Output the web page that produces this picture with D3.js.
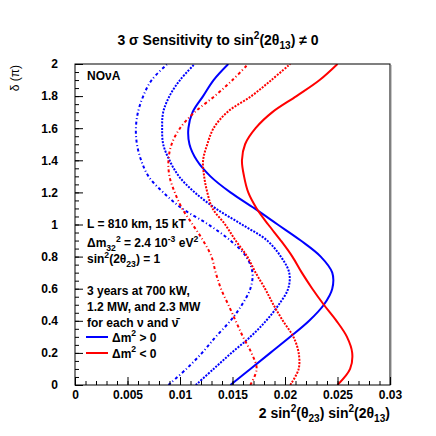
<!DOCTYPE html>
<html>
<head>
<meta charset="utf-8">
<script src="https://cdnjs.cloudflare.com/ajax/libs/d3/7.8.5/d3.min.js"></script>
<style>
body{margin:0;background:#fff}
svg{display:block}
</style>
</head>
<body>
<div id="chart"></div>
<script>

// delta/pi values where the curves were read
var deltaPi = [0,0.1,0.2,0.3,0.4,0.5,0.6,0.7,0.8,0.9,1.0,1.1,1.2,1.3,1.4,1.5,1.6,1.7,1.8,1.9,2.0];

// 2 sin^2(theta23) sin^2(2theta13) at each delta, normal hierarchy (blue)
var normal700 = [0.0148,0.0167,0.0186,0.0205,0.0223,0.0237,0.0245,0.0245,0.0234,0.0215,0.0193,0.0171,0.0148,0.0129,0.0116,0.0109,0.0108,0.0112,0.0122,0.0132,0.0146];
var normal1200 = [0.0115,0.0132,0.0149,0.0167,0.0182,0.0194,0.0203,0.0204,0.0196,0.0183,0.0159,0.0134,0.0114,0.0099,0.0090,0.0084,0.0083,0.0084,0.0090,0.0100,0.0114];
var normal2300 = [0.0089,0.0106,0.0121,0.0134,0.0148,0.0159,0.0167,0.0169,0.0163,0.0148,0.0127,0.0102,0.0084,0.0070,0.0063,0.0059,0.0058,0.0060,0.0065,0.0073,0.0088];

// inverted hierarchy (red)
var inverted700 = [0.0250,0.0262,0.0264,0.0259,0.0249,0.0237,0.0226,0.0216,0.0207,0.0196,0.0184,0.0173,0.0165,0.0161,0.0159,0.0162,0.0172,0.0188,0.0211,0.0233,0.0250];
var inverted1200 = [0.0205,0.0213,0.0213,0.0208,0.0198,0.0189,0.0181,0.0172,0.0164,0.0153,0.0143,0.0131,0.0126,0.0123,0.0122,0.0126,0.0132,0.0145,0.0168,0.0187,0.0205];
var inverted2300 = [0.0167,0.0173,0.0168,0.0160,0.0153,0.0146,0.0139,0.0134,0.0130,0.0122,0.0112,0.0102,0.0095,0.0090,0.0089,0.0092,0.0100,0.0114,0.0133,0.0150,0.0165];

var xTicks = [0,0.005,0.01,0.015,0.02,0.025,0.03];
var xTickLabels = ["0","0.005","0.01","0.015","0.02","0.025","0.03"];
var yTicks = [0,0.2,0.4,0.6,0.8,1,1.2,1.4,1.6,1.8,2];
var yTickLabels = ["0","0.2","0.4","0.6","0.8","1","1.2","1.4","1.6","1.8","2"];


var width = 436, height = 436;
var padL = 75, padR = 390, padT = 64, padB = 385;
var font = "'Liberation Sans', Arial, Helvetica, sans-serif";

var svg = d3.select("#chart").append("svg")
  .attr("width", width)
  .attr("height", height)
  .style("font-family", font);

svg.append("rect").attr("width", width).attr("height", height).attr("fill", "#fff");

var x = d3.scaleLinear().domain([0, 0.03]).range([padL, padR]);
var y = d3.scaleLinear().domain([0, 2]).range([padB, padT]);

svg.append("clipPath").attr("id", "frame")
  .append("rect")
  .attr("x", padL).attr("y", padT)
  .attr("width", padR - padL).attr("height", padB - padT);

// the six curves
var series = [
  {values: normal2300, color: "#0000ff", dash: "3,2.5,1,2.5"},
  {values: normal1200, color: "#0000ff", dash: "2,1.3"},
  {values: normal700, color: "#0000ff", dash: null},
  {values: inverted2300, color: "#ff0000", dash: "3,2.5,1,2.5"},
  {values: inverted1200, color: "#ff0000", dash: "2,1.3"},
  {values: inverted700, color: "#ff0000", dash: null}
];

var line = d3.line()
  .x(function(d){ return x(d[0]); })
  .y(function(d){ return y(d[1]); })
  .curve(d3.curveCatmullRom);

var curves = svg.append("g").attr("clip-path", "url(#frame)");
series.forEach(function(s){
  var pts = deltaPi.map(function(dl, i){ return [s.values[i], dl]; });
  curves.append("path")
    .datum(pts)
    .attr("d", line)
    .attr("fill", "none")
    .attr("stroke", s.color)
    .attr("stroke-width", 2)
    .attr("stroke-dasharray", s.dash);
});

// minor ticks
var xMinor = [];
for (var i = 0; i <= 30; i++) xMinor.push(i / 1000);
var yMinor = [];
for (var j = 0; j <= 40; j++) yMinor.push(j / 20);

svg.append("g")
  .attr("transform", "translate(0," + padB + ")")
  .call(d3.axisBottom(x).tickValues(xMinor).tickFormat("").tickSizeInner(-4).tickSizeOuter(0));
svg.append("g")
  .attr("transform", "translate(" + padL + ",0)")
  .call(d3.axisLeft(y).tickValues(yMinor).tickFormat("").tickSizeInner(-4).tickSizeOuter(0));

// major ticks and labels
var xAxis = svg.append("g")
  .attr("transform", "translate(0," + padB + ")")
  .call(d3.axisBottom(x).tickValues(xTicks)
    .tickFormat(function(d, i){ return xTickLabels[i]; })
    .tickSizeInner(-8).tickSizeOuter(0).tickPadding(5));
var yAxis = svg.append("g")
  .attr("transform", "translate(" + padL + ",0)")
  .call(d3.axisLeft(y).tickValues(yTicks)
    .tickFormat(function(d, i){ return yTickLabels[i]; })
    .tickSizeInner(-8).tickSizeOuter(0).tickPadding(17));

svg.selectAll(".tick text")
  .attr("font-family", font)
  .attr("font-size", 12)
  .attr("font-weight", "bold")
  .attr("fill", "#000");
svg.selectAll(".domain").remove();

// frame
svg.append("line")
  .attr("x1", padR + 1.5).attr("x2", padR + 1.5)
  .attr("y1", padT + 1).attr("y2", padB)
  .attr("stroke", "#c8c8c8").attr("stroke-width", 1);
svg.append("rect")
  .attr("x", padL).attr("y", padT)
  .attr("width", padR - padL).attr("height", padB - padT)
  .attr("fill", "none").attr("stroke", "#000").attr("stroke-width", 1);

// text with sub/superscripts
function rich(g, tx, ty, parts, size, anchor, weight){
  var t = g.append("text")
    .attr("x", tx).attr("y", ty)
    .attr("font-size", size)
    .attr("font-weight", weight || "bold")
    .attr("text-anchor", anchor || "start");
  var shift = 0;
  parts.forEach(function(p){
    var s = typeof p === "string" ? {t: p} : p;
    var target = s.sub ? size * 0.3 : (s.sup ? -size * 0.42 : 0);
    t.append("tspan")
      .attr("dy", target - shift)
      .attr("font-size", (s.sub || s.sup) ? size * 0.72 : size)
      .text(s.t);
    shift = target;
  });
  return t;
}

rich(svg, 218, 45, ["3 σ Sensitivity to sin", {t:"2", sup:true}, "(2θ", {t:"13", sub:true}, ") ≠ 0"], 14, "middle");

rich(svg, padR, 418, ["2 sin", {t:"2", sup:true}, "(θ", {t:"23", sub:true}, ") sin", {t:"2", sup:true}, "(2θ", {t:"13", sub:true}, ")"], 14, "end");

svg.append("text")
  .attr("transform", "translate(19," + (padT + 1) + ") rotate(-90)")
  .attr("text-anchor", "end")
  .attr("font-size", 12)
  .text("δ (π)");

rich(svg, 87, 80, ["NOνA"], 12);

rich(svg, 87, 228, ["L = 810 km, 15 kT"], 12);
rich(svg, 87, 247, ["Δm", {t:"32", sub:true}, {t:"2", sup:true}, " = 2.4 10", {t:"-3", sup:true}, " eV", {t:"2", sup:true}], 12);
rich(svg, 87, 263, ["sin", {t:"2", sup:true}, "(2θ", {t:"23", sub:true}, ") = 1"], 12);
rich(svg, 87, 295, ["3 years at 700 kW,"], 12);
rich(svg, 87, 311, ["1.2 MW, and 2.3 MW"], 12);
rich(svg, 87, 327, ["for each ν and ν\u0304"], 12);

var legendRows = [
  {color: "#0000ff", parts: ["Δm", {t:"2", sup:true}, " > 0"], y: 337},
  {color: "#ff0000", parts: ["Δm", {t:"2", sup:true}, " < 0"], y: 353}
];
legendRows.forEach(function(r){
  svg.append("line")
    .attr("x1", 86).attr("x2", 108)
    .attr("y1", r.y).attr("y2", r.y)
    .attr("stroke", r.color).attr("stroke-width", 2);
  rich(svg, 112, r.y + 4.5, r.parts, 12);
});

</script>
</body>
</html>
